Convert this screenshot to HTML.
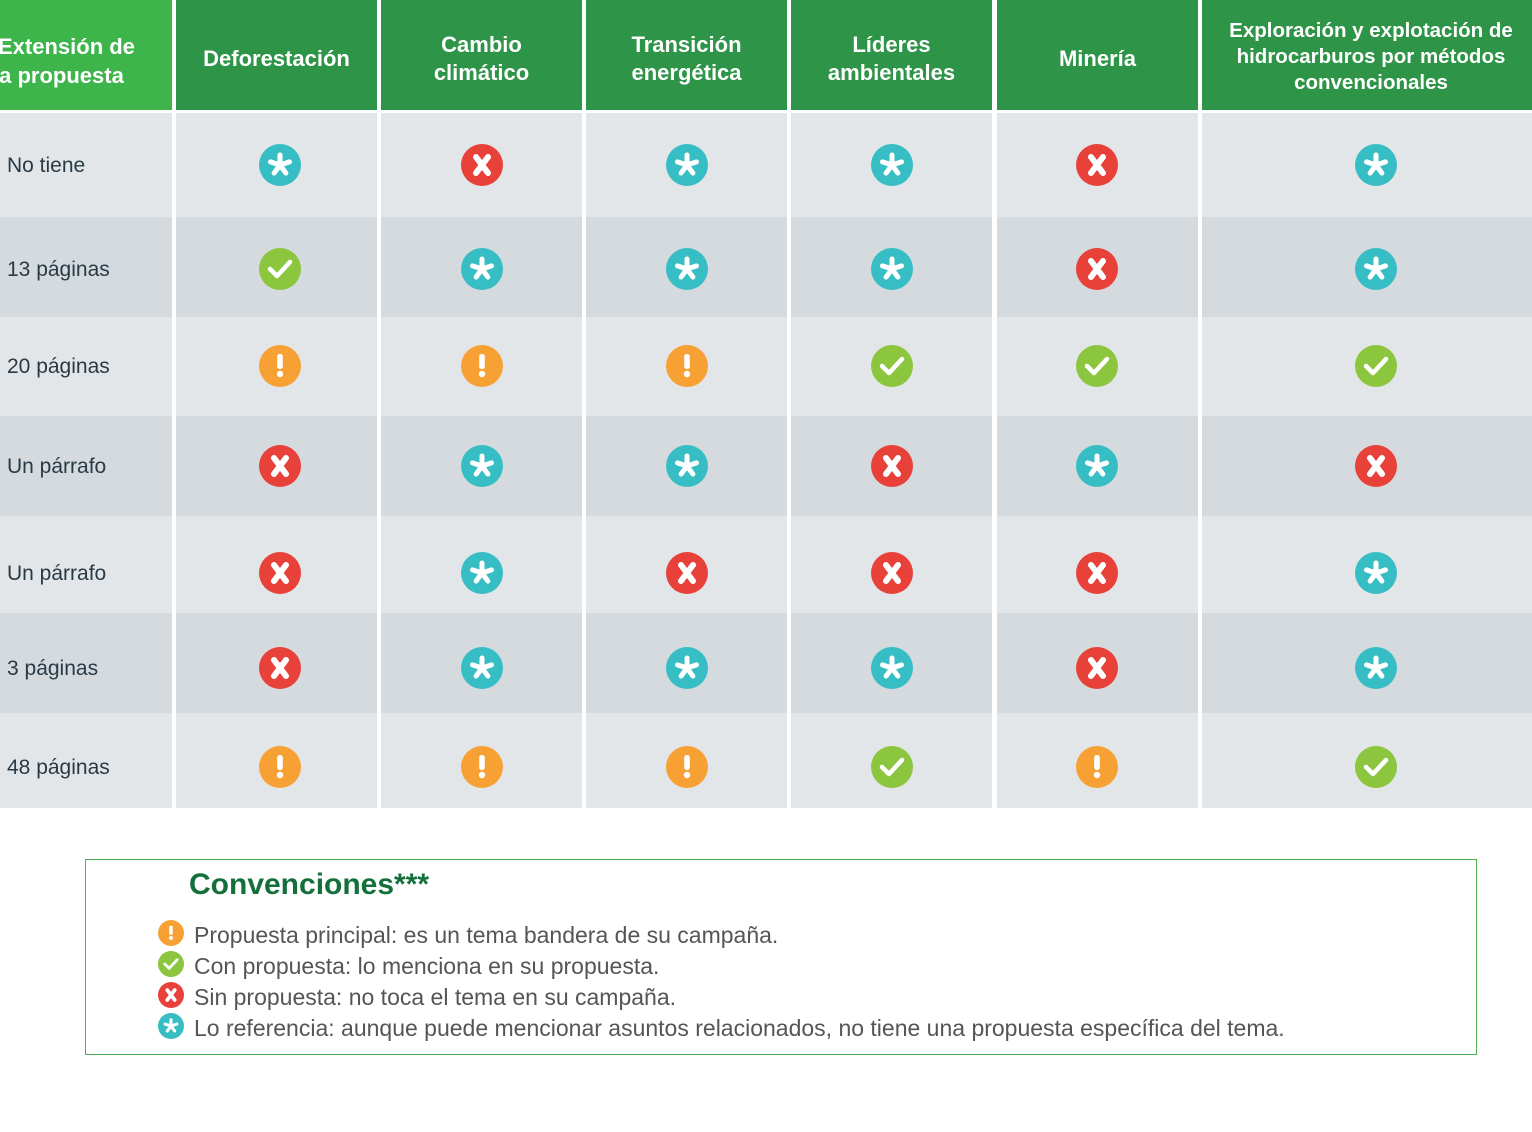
<!DOCTYPE html>
<html><head><meta charset="utf-8">
<style>
body{margin:0;width:1532px;height:1132px;background:#fff;position:relative;overflow:hidden;font-family:"Liberation Sans",sans-serif;}
.abs{position:absolute;}
.hd{position:absolute;top:0;height:110px;padding-top:8px;box-sizing:border-box;background:#2e9447;color:#fff;font-weight:bold;font-size:22px;display:flex;align-items:center;justify-content:center;text-align:center;line-height:28px;}
.cell{position:absolute;}
.lbl{position:absolute;left:7px;font-size:21px;color:#2a3a45;}
.leg{position:absolute;left:194px;font-size:23px;color:#555;white-space:nowrap;}
</style></head><body>
<div id="table"></div>
<div class="abs" style="left:85px;top:859px;width:1392px;height:196px;border:1.5px solid #4caf50;box-sizing:border-box;"></div>
<div class="abs" style="left:189px;top:868px;font-size:30px;font-weight:bold;color:#13703a;">Convenciones***</div>
<div id="legend"></div>
<script>
const columns=["Extensión de<br>la propuesta","Deforestación","Cambio<br>climático","Transición<br>energética","Líderes<br>ambientales","Minería","Exploración y explotación de<br>hidrocarburos por métodos<br>convencionales"];
const rowLabels=["No tiene","13 páginas","20 páginas","Un párrafo","Un párrafo","3 páginas","48 páginas"];
// P=principal(orange) C=con(green) S=sin(red) R=referencia(teal)
const values=[
["R","S","R","R","S","R"],
["C","R","R","R","S","R"],
["P","P","P","C","C","C"],
["S","R","R","S","R","S"],
["S","R","S","S","S","R"],
["S","R","R","R","S","R"],
["P","P","P","C","P","C"]];
const legendCodes=["P","C","S","R"];
const legendTexts=["Propuesta principal: es un tema bandera de su campaña.","Con propuesta: lo menciona en su propuesta.","Sin propuesta: no toca el tema en su campaña.","Lo referencia: aunque puede mencionar asuntos relacionados, no tiene una propuesta específica del tema."];

const colX=[[0,172],[176,377],[381,582],[586,787],[791,992],[997,1198],[1202,1532]];
const rowY=[113,217,317,416,516,613,713,808];
const iconCY=[165,269,366,466,573,668,767];
const iconCX=[280,482,687,892,1097,1376];
const colors={P:"#f7a134",C:"#8cc63f",S:"#e8413a",R:"#36bec4"};
function icon(code,cx,cy,r){
  const c=colors[code];let g="";
  if(code==="P") g=`<rect x="-2.8" y="-12" width="5.6" height="15" rx="2.5" fill="#fff"/><circle cx="0" cy="8" r="3.2" fill="#fff"/>`;
  if(code==="C") g=`<path d="M-10 0 L-3 7 L10 -7" stroke="#fff" stroke-width="4.5" fill="none" stroke-linecap="round" stroke-linejoin="round"/>`;
  if(code==="S") g=`<path d="M-6 -8 L6 8 M6 -8 L-6 8" stroke="#fff" stroke-width="6" stroke-linecap="round"/>`;
  if(code==="R"){for(let k=0;k<5;k++)g+=`<line x1="0" y1="0" x2="0" y2="-10" stroke="#fff" stroke-width="5" stroke-linecap="round" transform="rotate(${k*72})"/>`;}
  return `<svg class="abs" style="left:${cx-r}px;top:${cy-r}px" width="${2*r}" height="${2*r}" viewBox="-21 -21 42 42"><circle r="21" fill="${c}"/>${g}</svg>`;
}
const t=document.getElementById('table');
columns.forEach((c,i)=>{
  const d=document.createElement('div');d.className='hd';
  
  
  d.style.left=colX[i][0]+'px';d.style.width=(colX[i][1]-colX[i][0])+'px';
  if(i===0){
    d.style.background='#3db54a';d.style.overflow='hidden';
    const parts=c.split('<br>');
    d.innerHTML=`<div class="abs" style="left:-2px;top:33px;white-space:nowrap">${parts[0]}</div><div class="abs" style="left:-7px;top:62px;white-space:nowrap">${parts[1]}</div>`;
    t.appendChild(d);return;
  }
  if(i===6){d.style.fontSize='20.5px';d.style.lineHeight='26px';d.style.paddingLeft='8px';d.style.paddingTop='4px';}
  d.innerHTML=c;t.appendChild(d);
});
rowLabels.forEach((lab,r)=>{
  const bg=r%2?'#d4dade':'#e3e6e9';
  colX.forEach((cx,i)=>{
    const d=document.createElement('div');d.className='cell';
    
    
    d.style.cssText=`left:${cx[0]}px;width:${cx[1]-cx[0]}px;top:${rowY[r]}px;height:${rowY[r+1]-rowY[r]}px;background:${bg}`;
    t.appendChild(d);
  });
  const l=document.createElement('div');l.className='lbl';
  
  
  l.style.top=(iconCY[r]-11)+'px';l.textContent=lab;t.appendChild(l);
  values[r].forEach((v,j)=>{
    const w=document.createElement('div');
    
    
    w.innerHTML=icon(v,iconCX[j],iconCY[r],21);t.appendChild(w);
  });
});
const lg=document.getElementById('legend');
legendCodes.forEach((c,i)=>{
  const y=935+i*31;
  const w=document.createElement('div');
  
  
  w.innerHTML=icon(c,171,y-2,13)+`<div class="leg" style="top:${y-13}px">${legendTexts[i]}</div>`;
  lg.appendChild(w);
});
</script>
</body></html>
